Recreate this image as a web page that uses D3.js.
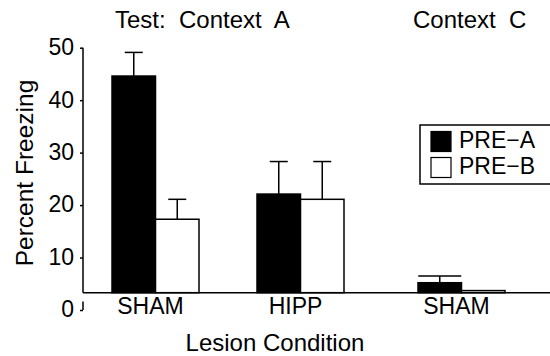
<!DOCTYPE html>
<html>
<head>
<meta charset="utf-8">
<script src="https://cdn.jsdelivr.net/npm/d3@7"></script>
<style>
  body { margin: 0; background: #fff; }
  text { font-family: "Liberation Sans", Arial, sans-serif; fill: #000; }
</style>
</head>
<body>
<script>
// data
const series = ["PRE-A", "PRE-B"]
const contextA = ["SHAM", "HIPP"]
const contextC = ["SHAM"]
const meanA = [[44.6, 17.3], [22.1, 21.1]]   // per lesion: PRE-A, PRE-B
const semA  = [[4.5, 3.8], [6.2, 7.2]]
const meanC = [[5.2, 3.7]]
const semC  = [[1.3, 0]]
const yTicks = [0, 10, 20, 30, 40, 50]

const width = 550
const height = 356
const baseVal = 3.3   // the bars stand on a line drawn a little above 0

const svg = d3.select("body").append("svg")
  .attr("width", width)
  .attr("height", height)

const y = d3.scaleLinear().domain([0, 50]).range([310, 47.7])

const xA = d3.scaleBand().domain(contextA).range([83, 373]).padding(0)
const xC = d3.scaleBand().domain(contextC).range([375, 548]).padding(0)
const xInner = d3.scaleBand().domain(series).range([-43.5, 43.5]).padding(0)
const fills = ["#000", "#fff"]

// y axis
const yAxis = svg.append("g")
  .attr("transform", "translate(83,0)")
  .call(d3.axisLeft(y).tickValues(yTicks).tickSize(3).tickPadding(6))
yAxis.select(".domain").remove()
yAxis.selectAll(".tick line").attr("stroke", "#000").attr("stroke-width", 1.5)
yAxis.selectAll(".tick text").attr("font-size", 23).attr("font-family", "Liberation Sans")
  .attr("dy", "0.3em")

svg.append("line")
  .attr("x1", 83).attr("x2", 83)
  .attr("y1", y(50)).attr("y2", y(baseVal))
  .attr("stroke", "#000").attr("stroke-width", 1.5)
svg.append("line")
  .attr("x1", 83).attr("x2", 83)
  .attr("y1", y(1.6)).attr("y2", y(0))
  .attr("stroke", "#000").attr("stroke-width", 1.5)

function drawPanel(x, cats, means, sems, capW) {
  cats.forEach((c, i) => {
    const cx = x(c) + x.bandwidth() / 2
    const g = svg.append("g").attr("transform", `translate(${cx},0)`)
    series.forEach((s, j) => {
      const v = means[i][j]
      const bx = xInner(s)
      const mid = bx + xInner.bandwidth() / 2
      if (sems[i][j] > 0) {
        const top = y(v + sems[i][j])
        g.append("line").attr("x1", mid).attr("x2", mid)
          .attr("y1", y(v)).attr("y2", top)
          .attr("stroke", "#000").attr("stroke-width", 1.5)
        g.append("line").attr("x1", mid - capW / 2).attr("x2", mid + capW / 2)
          .attr("y1", top).attr("y2", top)
          .attr("stroke", "#000").attr("stroke-width", 1.5)
      }
      g.append("rect")
        .attr("x", bx).attr("width", xInner.bandwidth())
        .attr("y", y(v)).attr("height", y(baseVal) - y(v))
        .attr("fill", fills[j]).attr("stroke", "#000").attr("stroke-width", 1.5)
    })
    svg.append("text")
      .attr("x", cx - 5).attr("y", 314)
      .attr("text-anchor", "middle").attr("font-size", 23)
      .text(c)
  })
}

drawPanel(xA, contextA, meanA, semA, 18)
drawPanel(xC, contextC, meanC, semC, 43)

// x baseline
svg.append("line")
  .attr("x1", 83).attr("x2", width)
  .attr("y1", y(baseVal)).attr("y2", y(baseVal))
  .attr("stroke", "#000").attr("stroke-width", 1.5)

// titles
svg.append("text").attr("x", 115).attr("y", 28).attr("font-size", 24)
  .style("white-space", "pre")
  .text("Test:  Context  A")
svg.append("text").attr("x", 413).attr("y", 28).attr("font-size", 24)
  .style("white-space", "pre")
  .text("Context  C")

svg.append("text")
  .attr("transform", "translate(33,173) rotate(-90)")
  .attr("text-anchor", "middle").attr("font-size", 24.5)
  .text("Percent Freezing")

svg.append("text")
  .attr("x", 275).attr("y", 351)
  .attr("text-anchor", "middle").attr("font-size", 24)
  .text("Lesion Condition")

// legend
const leg = svg.append("g")
leg.append("rect").attr("x", 420).attr("y", 125).attr("width", 140).attr("height", 59)
  .attr("fill", "#fff").attr("stroke", "#000").attr("stroke-width", 1.5)
series.forEach((s, j) => {
  leg.append("rect").attr("x", 431).attr("y", 131.5 + j * 26).attr("width", 20).attr("height", 20)
    .attr("fill", fills[j]).attr("stroke", "#000").attr("stroke-width", 1.2)
  leg.append("text").attr("x", 459).attr("y", 148 + j * 26).attr("font-size", 23)
    .text(s.replace("-", "\u2212"))
})
</script>
</body>
</html>
